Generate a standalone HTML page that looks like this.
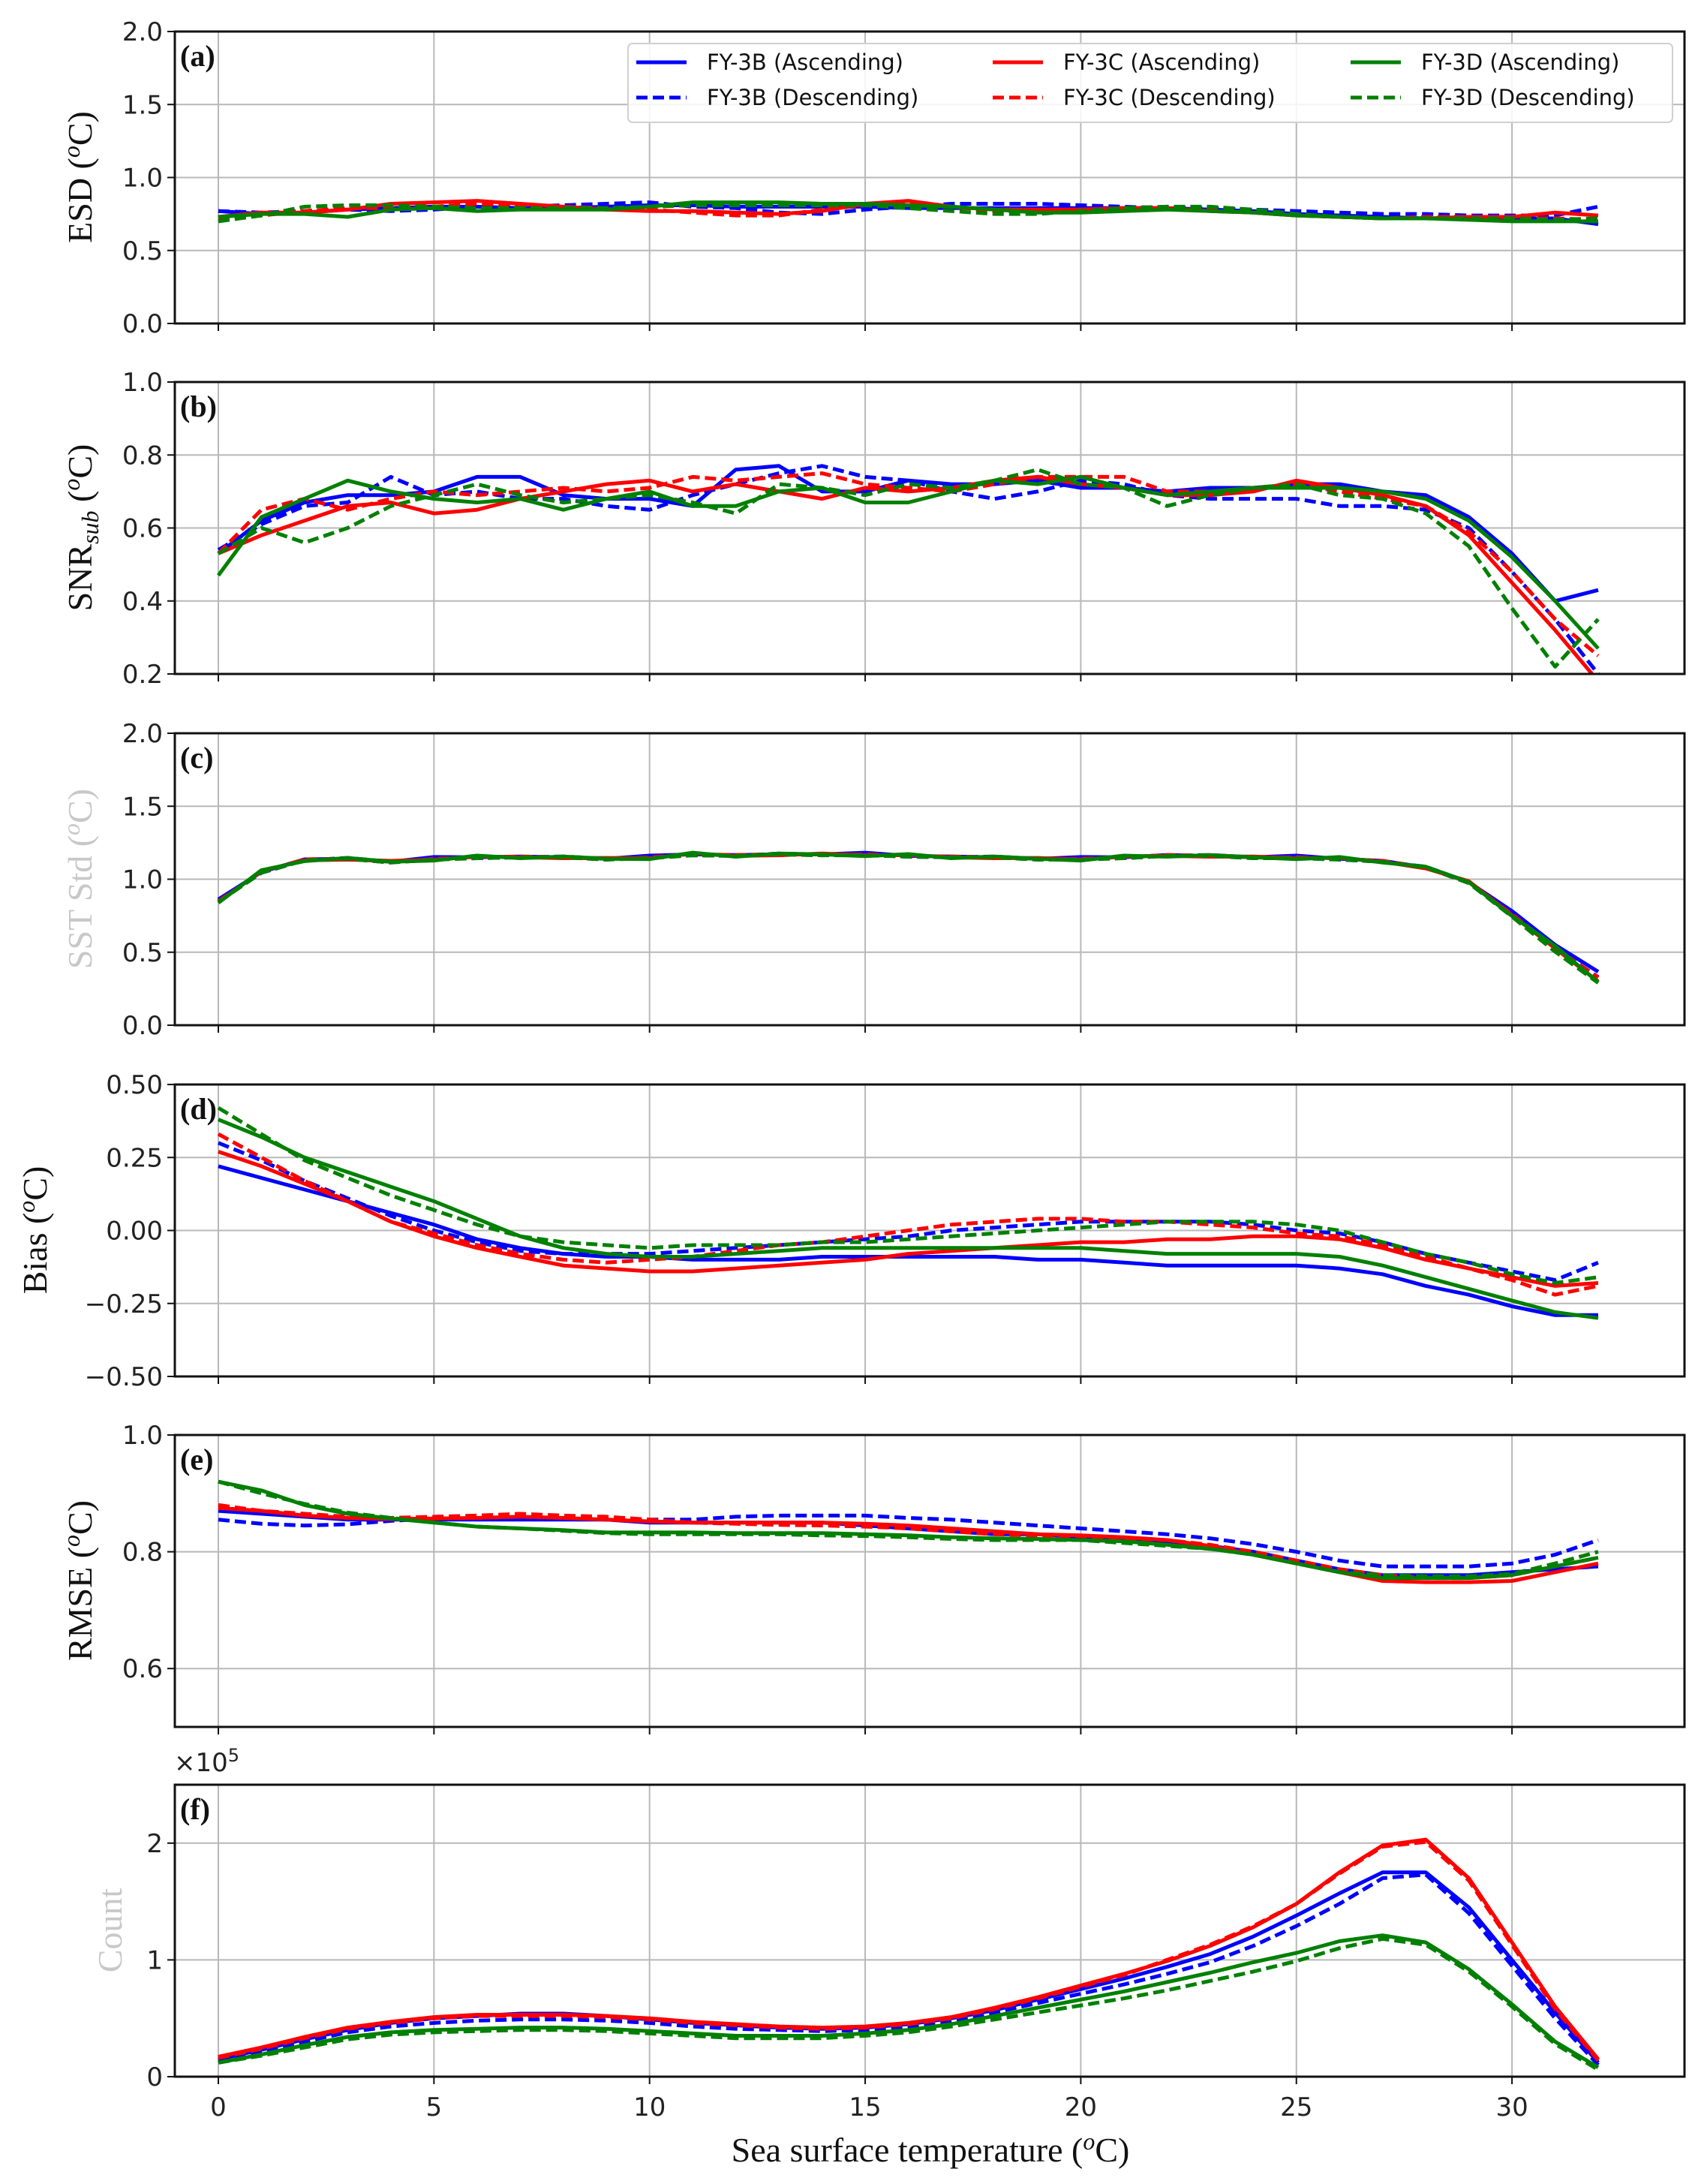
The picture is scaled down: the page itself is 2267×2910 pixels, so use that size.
<!DOCTYPE html>
<html><head><meta charset="utf-8">
<style>
html,body{margin:0;padding:0;background:#fff;}
svg{display:block;}
.tk{font-family:"DejaVu Sans","Liberation Sans",sans-serif;font-size:34px;fill:#222;}
.yl{font-family:"Liberation Serif",serif;font-size:46px;fill:#111;}
.pl{font-family:"Liberation Serif",serif;font-size:40px;font-weight:bold;fill:#111;}
.lg{font-family:"DejaVu Sans","Liberation Sans",sans-serif;font-size:29px;fill:#111;}
</style></head>
<body>
<svg id="s" width="2267" height="2910" viewBox="0 0 2267 2910" xmlns="http://www.w3.org/2000/svg">
<g id="grid"></g>
<g id="data"></g>
<g id="axes"></g>
<g id="txt">
<text class="pl" x="240" y="88">(a)</text>
<text class="pl" x="240" y="555">(b)</text>
<text class="pl" x="240" y="1023">(c)</text>
<text class="pl" x="240" y="1491">(d)</text>
<text class="pl" x="240" y="1958">(e)</text>
<text class="pl" x="240" y="2424">(f)</text>

<text class="yl" transform="translate(122,236) rotate(-90)" text-anchor="middle">ESD (<tspan font-style="italic" font-size="32" dy="-16">o</tspan><tspan dy="16">C)</tspan></text>
<text class="yl" transform="translate(122,703) rotate(-90)" text-anchor="middle">SNR<tspan font-style="italic" font-size="32" dy="9">sub</tspan><tspan dy="-9"> (</tspan><tspan font-style="italic" font-size="32" dy="-16">o</tspan><tspan dy="16">C)</tspan></text>
<text class="yl" transform="translate(122,1171) rotate(-90)" text-anchor="middle" style="fill:#c8c8c8">SST Std (<tspan font-style="italic" font-size="32" dy="-16">o</tspan><tspan dy="16">C)</tspan></text>
<text class="yl" transform="translate(62,1639) rotate(-90)" text-anchor="middle">Bias (<tspan font-style="italic" font-size="32" dy="-16">o</tspan><tspan dy="16">C)</tspan></text>
<text class="yl" transform="translate(122,2106) rotate(-90)" text-anchor="middle">RMSE (<tspan font-style="italic" font-size="32" dy="-16">o</tspan><tspan dy="16">C)</tspan></text>
<text class="yl" transform="translate(162,2572) rotate(-90)" text-anchor="middle" style="fill:#c8c8c8">Count</text>
<text class="tk" x="232" y="2360">×10<tspan font-size="24" dy="-13">5</tspan></text>
<text class="yl" x="1240" y="2880" text-anchor="middle">Sea surface temperature (<tspan font-style="italic" font-size="32" dy="-16">o</tspan><tspan dy="16">C)</tspan></text>

<rect x="837" y="58" width="1392" height="105" rx="6" fill="#fff" fill-opacity="0.85" stroke="#d0d0d0" stroke-width="2"/>
<line x1="848" y1="83" x2="915" y2="83" stroke="#0000ff" stroke-width="5"/>
<line x1="848" y1="130" x2="915" y2="130" stroke="#0000ff" stroke-width="5" stroke-dasharray="15,7"/>
<line x1="1323" y1="83" x2="1390" y2="83" stroke="#ff0000" stroke-width="5"/>
<line x1="1323" y1="130" x2="1390" y2="130" stroke="#ff0000" stroke-width="5" stroke-dasharray="15,7"/>
<line x1="1800" y1="83" x2="1867" y2="83" stroke="#008000" stroke-width="5"/>
<line x1="1800" y1="130" x2="1867" y2="130" stroke="#008000" stroke-width="5" stroke-dasharray="15,7"/>
<text class="lg" x="942" y="93">FY-3B (Ascending)</text>
<text class="lg" x="942" y="140">FY-3B (Descending)</text>
<text class="lg" x="1417" y="93">FY-3C (Ascending)</text>
<text class="lg" x="1417" y="140">FY-3C (Descending)</text>
<text class="lg" x="1894" y="93">FY-3D (Ascending)</text>
<text class="lg" x="1894" y="140">FY-3D (Descending)</text>
</g>
</svg>
<script>
var NS="http://www.w3.org/2000/svg";
var L=233,R=2245,X0=291,U=57.47;
function X(v){return X0+v*U;}
var panels=[
 {top:42,lo:0,hi:2,ticks:[0,0.5,1,1.5,2],fmt:1},
 {top:509,lo:0.2,hi:1,ticks:[0.2,0.4,0.6,0.8,1.0],fmt:1},
 {top:977,lo:0,hi:2,ticks:[0,0.5,1,1.5,2],fmt:1},
 {top:1445,lo:-0.5,hi:0.5,ticks:[-0.5,-0.25,0,0.25,0.5],fmt:2},
 {top:1912,lo:0.5,hi:1,ticks:[0.6,0.8,1.0],fmt:1},
 {top:2378,lo:0,hi:2.5,ticks:[0,1,2],fmt:0}
];
var H=389;
var gG=document.getElementById('grid'),gD=document.getElementById('data'),gA=document.getElementById('axes');
function el(p,tag,a,t){var e=document.createElementNS(NS,tag);for(var k in a)e.setAttribute(k,a[k]);if(t!==undefined)e.textContent=t;p.appendChild(e);return e;}
var data=[
[[.77,.75,.76,.78,.79,.80,.80,.79,.79,.80,.81,.81,.80,.80,.80,.80,.79,.79,.79,.79,.79,.79,.79,.78,.77,.75,.74,.73,.72,.72,.72,.72,.68],
 [.77,.76,.77,.78,.77,.78,.80,.80,.81,.82,.83,.80,.79,.76,.75,.78,.80,.82,.82,.82,.81,.80,.79,.79,.78,.77,.76,.75,.75,.74,.74,.74,.80],
 [.73,.76,.76,.78,.82,.83,.84,.82,.80,.78,.77,.77,.76,.75,.77,.82,.84,.80,.78,.78,.78,.79,.79,.77,.76,.74,.73,.72,.72,.73,.73,.76,.74],
 [.72,.74,.77,.79,.79,.80,.82,.81,.80,.79,.78,.76,.74,.74,.78,.81,.82,.80,.77,.77,.78,.79,.80,.79,.76,.74,.73,.72,.73,.73,.72,.72,.71],
 [.73,.75,.75,.73,.78,.79,.77,.78,.78,.78,.80,.83,.83,.83,.82,.82,.81,.80,.78,.76,.76,.77,.78,.77,.76,.74,.73,.72,.72,.71,.70,.70,.70],
 [.70,.74,.80,.81,.81,.80,.79,.79,.79,.79,.80,.81,.81,.81,.81,.81,.79,.77,.75,.75,.77,.79,.80,.80,.78,.75,.73,.72,.72,.72,.72,.71,.72]],
[[.53,.62,.67,.69,.69,.70,.74,.74,.69,.68,.68,.66,.76,.77,.70,.70,.73,.72,.72,.73,.71,.71,.70,.71,.71,.72,.72,.70,.69,.63,.53,.40,.43],
 [.54,.61,.66,.67,.74,.69,.70,.68,.68,.66,.65,.69,.72,.75,.77,.74,.73,.70,.68,.70,.73,.72,.69,.68,.68,.68,.66,.66,.65,.60,.48,.35,.20],
 [.53,.58,.62,.66,.67,.64,.65,.68,.70,.72,.73,.70,.72,.70,.68,.71,.70,.71,.73,.74,.72,.71,.69,.69,.70,.73,.71,.69,.66,.58,.45,.32,.18],
 [.53,.65,.68,.65,.68,.70,.69,.70,.71,.70,.71,.74,.73,.74,.75,.72,.71,.70,.72,.74,.74,.74,.70,.70,.71,.72,.70,.68,.66,.59,.48,.35,.25],
 [.47,.63,.68,.73,.70,.68,.67,.68,.65,.68,.70,.66,.66,.70,.71,.67,.67,.70,.73,.72,.74,.71,.69,.70,.71,.71,.71,.70,.68,.62,.52,.40,.27],
 [.53,.60,.56,.60,.66,.69,.72,.69,.67,.68,.69,.67,.64,.72,.71,.69,.72,.71,.73,.76,.72,.71,.66,.69,.71,.72,.69,.68,.64,.55,.38,.22,.35]],
null,
[[.22,.18,.14,.10,.06,.02,-.03,-.06,-.08,-.09,-.09,-.10,-.10,-.10,-.09,-.09,-.09,-.09,-.09,-.10,-.10,-.11,-.12,-.12,-.12,-.12,-.13,-.15,-.19,-.22,-.26,-.29,-.29],
 [.30,.24,.17,.11,.05,.00,-.04,-.07,-.08,-.08,-.08,-.07,-.06,-.05,-.04,-.03,-.02,.00,.01,.02,.03,.03,.03,.03,.02,.00,-.01,-.04,-.08,-.11,-.14,-.17,-.11],
 [.27,.22,.16,.10,.03,-.02,-.06,-.09,-.12,-.13,-.14,-.14,-.13,-.12,-.11,-.10,-.08,-.07,-.06,-.05,-.04,-.04,-.03,-.03,-.02,-.02,-.03,-.06,-.10,-.13,-.16,-.19,-.18],
 [.33,.25,.17,.10,.03,-.01,-.05,-.08,-.10,-.11,-.10,-.09,-.07,-.05,-.04,-.02,.00,.02,.03,.04,.04,.03,.03,.02,.01,-.01,-.02,-.05,-.09,-.13,-.17,-.22,-.19],
 [.38,.32,.25,.20,.15,.10,.04,-.02,-.06,-.08,-.09,-.09,-.08,-.07,-.06,-.06,-.06,-.06,-.06,-.06,-.06,-.07,-.08,-.08,-.08,-.08,-.09,-.12,-.16,-.20,-.24,-.28,-.30],
 [.42,.33,.24,.18,.12,.07,.02,-.02,-.04,-.05,-.06,-.05,-.05,-.05,-.04,-.04,-.03,-.02,-.01,.00,.01,.02,.03,.03,.03,.02,.00,-.04,-.08,-.11,-.15,-.18,-.16]],
[[.87,.865,.86,.855,.855,.855,.855,.855,.855,.855,.85,.85,.85,.85,.85,.845,.84,.835,.83,.83,.825,.82,.815,.81,.80,.785,.77,.76,.76,.76,.765,.77,.775],
 [.855,.848,.845,.847,.853,.857,.858,.858,.857,.855,.855,.855,.86,.862,.862,.862,.858,.855,.85,.845,.84,.835,.83,.823,.813,.80,.785,.775,.775,.775,.78,.795,.82],
 [.875,.87,.862,.858,.856,.857,.858,.86,.858,.855,.852,.85,.85,.85,.85,.848,.845,.84,.835,.83,.828,.825,.82,.81,.795,.78,.765,.75,.748,.748,.75,.765,.78],
 [.88,.87,.865,.86,.858,.86,.862,.865,.862,.86,.855,.85,.848,.846,.845,.843,.84,.835,.83,.828,.827,.823,.82,.812,.80,.785,.77,.76,.755,.755,.76,.775,.79],
 [.92,.905,.88,.865,.857,.85,.843,.84,.837,.833,.833,.833,.832,.832,.832,.83,.828,.825,.823,.822,.82,.818,.812,.805,.795,.78,.765,.755,.755,.755,.76,.775,.79],
 [.92,.90,.882,.867,.858,.85,.843,.84,.836,.832,.83,.83,.83,.83,.828,.827,.825,.822,.82,.82,.82,.815,.81,.805,.795,.78,.765,.76,.758,.758,.762,.78,.80]],
[[.15,.23,.32,.40,.46,.50,.52,.54,.54,.52,.49,.46,.44,.42,.41,.42,.45,.50,.57,.66,.75,.84,.94,1.05,1.20,1.38,1.57,1.75,1.75,1.45,1.00,.55,.12],
 [.14,.22,.30,.38,.43,.46,.48,.49,.49,.48,.46,.43,.41,.40,.39,.40,.43,.48,.55,.63,.71,.79,.88,.98,1.12,1.29,1.48,1.70,1.73,1.40,.95,.50,.10],
 [.17,.25,.34,.42,.47,.51,.53,.53,.53,.52,.50,.47,.45,.43,.42,.43,.46,.51,.59,.68,.78,.88,.99,1.12,1.28,1.48,1.75,1.98,2.03,1.70,1.15,.60,.15],
 [.16,.24,.33,.41,.46,.50,.52,.52,.52,.51,.49,.46,.44,.42,.41,.42,.45,.50,.58,.67,.77,.87,1.0,1.13,1.29,1.48,1.74,1.97,2.01,1.68,1.13,.58,.14],
 [.12,.19,.27,.34,.38,.40,.41,.42,.42,.41,.39,.37,.35,.35,.35,.37,.40,.45,.52,.59,.66,.73,.81,.89,.98,1.06,1.16,1.21,1.15,.92,.62,.30,.08],
 [.12,.18,.25,.32,.36,.38,.39,.40,.40,.39,.37,.35,.33,.33,.33,.35,.38,.43,.49,.55,.61,.67,.74,.82,.90,.99,1.10,1.18,1.13,.90,.60,.28,.06]]
];
var cbase=[.85,1.05,1.13,1.14,1.12,1.14,1.15,1.15,1.15,1.14,1.15,1.17,1.16,1.17,1.17,1.17,1.16,1.15,1.15,1.14,1.14,1.15,1.16,1.16,1.15,1.15,1.14,1.12,1.08,.98,.77,.55,.35];
var off=[[.02,.0,.01,.0,.0],[0,-.01,0,.01,0],[-.01,.01,0,-.01,.01],[0,0,.01,0,-.01],[-.02,.02,-.01,.01,0],[-.01,-.01,0,0,-.01]];
var tails=[[0,0,0,0,.01],[0,0,-.01,-.02,-.02],[0,0,-.01,-.03,-.05],[0,0,-.01,-.02,-.03],[0,0,-.01,-.02,-.05],[0,0,-.02,-.04,-.06]];
data[2]=[];
for(var s=0;s<6;s++){var arr=[];for(var i=0;i<33;i++){var v=cbase[i]+off[s][i%5]*0.6;if(i>=28)v+=tails[s][i-28];arr.push(v);}data[2].push(arr);}
var cols=['#0000ff','#0000ff','#ff0000','#ff0000','#008000','#008000'];
panels.forEach(function(p,pi){
 var bot=p.top+H;
 function Y(v){return bot-(v-p.lo)/(p.hi-p.lo)*H;}
 for(var t=0;t<=30;t+=5){el(gG,'line',{x1:X(t),x2:X(t),y1:p.top,y2:bot,stroke:'#b8b8b8','stroke-width':2});}
 p.ticks.forEach(function(t){
  var y=Y(t);
  if(t>p.lo+1e-9&&t<p.hi-1e-9) el(gG,'line',{x1:L,x2:R,y1:y,y2:y,stroke:'#b8b8b8','stroke-width':2});
  el(gA,'line',{x1:L-10,x2:L,y1:y,y2:y,stroke:'#111','stroke-width':2});
  var lab=p.fmt==0?String(t):(p.fmt==2?t.toFixed(2):t.toFixed(1));
  lab=lab.replace('-','\u2212');
  el(gA,'text',{'class':'tk',x:L-16,y:y+12,'text-anchor':'end'},lab);
 });
 for(var t=0;t<=30;t+=5){el(gA,'line',{x1:X(t),x2:X(t),y1:bot,y2:bot+10,stroke:'#111','stroke-width':2});}
 if(pi==5){for(var t=0;t<=30;t+=5){el(gA,'text',{'class':'tk',x:X(t),y:bot+52,'text-anchor':'middle'},String(t));}}
 el(gA,'rect',{x:L,y:p.top,width:R-L,height:H,fill:'none',stroke:'#111','stroke-width':3});
 var cp=document.createElementNS(NS,'clipPath');cp.setAttribute('id','c'+pi);el(cp,'rect',{x:L,y:p.top,width:R-L,height:H});gD.appendChild(cp);
 var g=el(gD,'g',{'clip-path':'url(#c'+pi+')'});
 [0,1,2,3,4,5].forEach(function(s){
  var d='';data[pi][s].forEach(function(v,i){d+=(i?'L':'M')+X(i).toFixed(1)+','+Y(v).toFixed(1);});
  var a={d:d,fill:'none',stroke:cols[s],'stroke-width':5,'stroke-linejoin':'round'};
  if(s%2==1)a['stroke-dasharray']='15,7';
  el(g,'path',a);
 });
});
</script>
</body></html>
